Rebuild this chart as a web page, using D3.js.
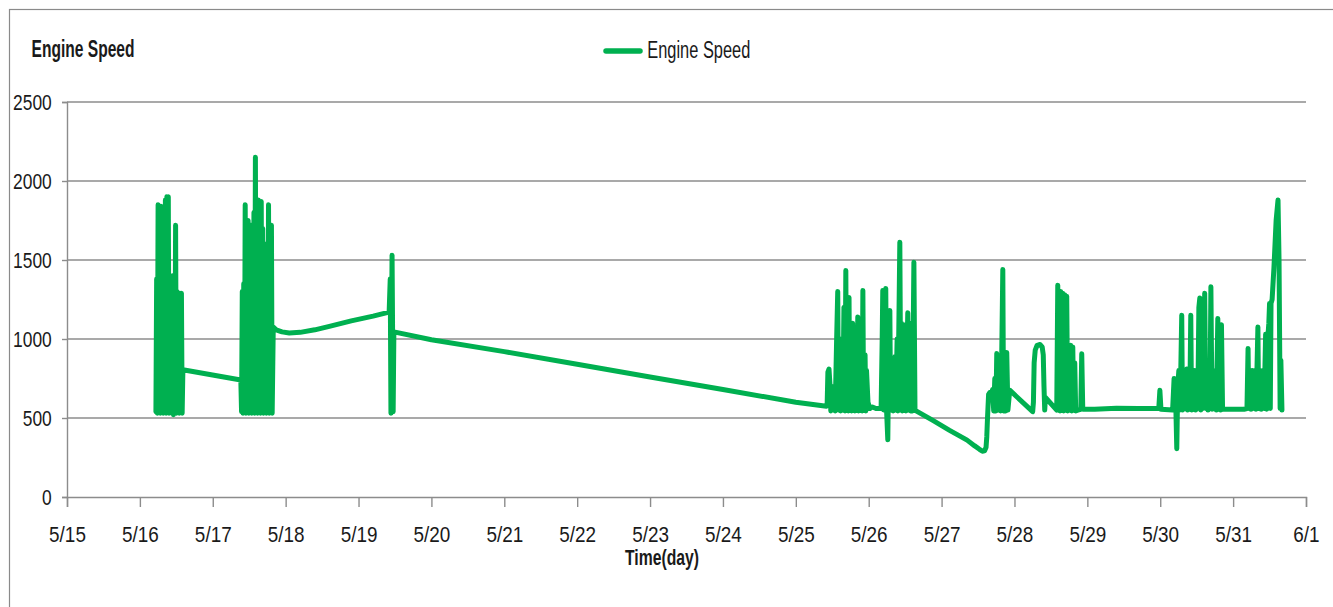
<!DOCTYPE html>
<html>
<head>
<meta charset="utf-8">
<script src="https://cdn.jsdelivr.net/npm/d3@7"></script>
<style>
  html, body { margin: 0; padding: 0; background: #fff; }
  svg text { font-family: 'Liberation Sans', Arial, sans-serif; fill: #1a1a1a; }
</style>
</head>
<body>
<svg id="chart" width="1333" height="607"></svg>
<script>
// ---- data (time in day-of-May, 32 = June 1) ----
const times = [
  16.22,16.23,16.24,16.25,16.26,16.27,16.28,16.29,16.30,16.31,16.32,16.33,16.34,16.35,16.36,16.37,16.38,16.39,16.40,16.41,16.42,16.43,16.44,16.45,16.46,16.47,16.48,16.49,16.50,16.51,16.52,16.53,16.54,16.55,16.56,16.57,16.58,16.59,
  17.385,17.395,17.405,17.415,17.425,17.435,17.445,17.455,17.465,17.475,17.485,17.495,17.505,17.515,17.525,17.535,17.545,17.555,17.565,17.575,17.585,17.595,17.605,17.615,17.625,17.635,17.645,17.655,17.665,17.675,17.685,17.695,17.705,17.715,17.725,17.735,17.745,17.755,17.765,17.775,17.785,17.795,17.805,17.815,17.83,
  17.87,17.95,18.05,18.2,18.4,18.6,18.9,19.2,19.42,19.435,19.445,19.46,19.475,19.485,20.0,21,22,23,24,25,25.42,
  25.43,25.44,25.455,25.47,25.48,25.50,25.52,25.54,25.56,25.575,25.585,25.60,25.615,25.63,25.645,25.66,25.675,25.686,25.695,25.71,25.72,25.73,25.74,25.755,25.765,25.78,25.79,25.80,25.81,25.83,25.84,25.85,25.86,25.875,25.885,25.90,25.91,25.92,25.93,25.95,25.96,25.97,25.99,26.015,26.05,26.10,26.17,
  26.185,26.193,26.205,26.22,26.234,26.245,26.262,26.275,26.29,26.30,26.32,26.335,26.36,26.37,26.39,26.40,26.427,26.44,26.45,26.46,26.475,26.485,26.50,26.51,26.525,26.536,26.55,26.565,26.575,26.59,26.60,26.62,26.635,26.65,
  26.88,27.11,27.35,27.45,27.52,27.56,27.59,27.61,27.62,27.63,27.645,
  27.66,27.68,27.70,27.715,27.73,27.745,27.757,27.77,27.785,27.80,27.81,27.825,27.84,27.85,27.865,27.88,27.894,27.91,27.935,
  28.25,28.26,28.27,28.285,28.31,28.35,28.38,28.395,28.405,28.415,28.425,28.58,
  28.594,28.605,28.615,28.625,28.635,28.645,28.663,28.675,28.69,28.70,28.717,28.73,28.745,28.758,28.772,28.786,28.80,28.812,28.827,28.84,28.87,28.91,28.923,28.937,
  29.1,29.4,29.7,29.98,29.995,30.01,30.17,
  30.19,30.20,30.215,30.227,30.24,30.255,30.265,30.28,30.295,30.305,30.32,30.335,30.35,30.364,30.375,30.39,30.405,30.419,30.43,30.445,30.46,30.474,30.485,30.50,30.515,30.53,30.543,30.555,30.57,30.585,30.60,30.61,30.625,30.64,30.655,30.67,30.682,30.695,30.71,30.725,30.74,30.755,30.77,30.79,30.80,30.815,30.828,30.84,30.855,
  31.15,31.19,31.205,31.215,31.23,31.245,31.26,31.273,31.285,31.30,31.315,31.34,31.35,31.37,31.385,31.41,31.425,31.446,31.46,31.475,31.49,31.50,31.51,31.52,31.535,31.56,31.59,31.616,31.63,31.645,31.655,31.67
];
const speeds = [
  540,1380,530,1850,540,1400,530,1840,550,1350,530,1420,540,1880,530,1900,560,1900,530,1380,540,1330,530,1400,520,1380,540,1720,530,1300,540,1290,530,1290,540,1290,530,805,
  741,540,1300,530,1350,540,1850,530,1600,540,1750,530,1400,540,1720,530,1450,540,1800,530,2150,540,1400,530,1880,540,1500,530,1870,540,1700,530,1450,540,1600,530,1500,540,1850,530,1400,540,1720,530,1076,
  1058,1045,1038,1042,1058,1080,1115,1145,1170,1380,530,1530,540,1045,995,920,840,760,680,600,575,
  590,790,810,700,545,560,700,545,1000,1300,550,900,545,1000,550,1200,545,1433,550,1100,545,1263,550,900,545,1100,550,800,545,1000,550,1140,545,900,550,1000,545,1307,550,900,545,800,600,560,570,560,560,
  1000,1307,550,1100,1320,550,362,900,1180,550,800,545,887,550,1000,545,1612,550,1100,545,1000,550,1090,545,900,1166,550,1100,545,800,545,1486,550,545,
  485,422,360,325,302,290,292,315,380,500,650,
  660,640,680,545,750,545,908,550,700,775,545,900,1440,545,900,545,914,550,676,
  540,600,850,930,960,965,950,900,700,550,630,550,
  1340,550,1000,545,1300,550,1290,545,1280,550,1270,545,800,550,960,545,950,550,850,545,550,555,907,555,
  555,562,560,560,675,555,550,
  750,700,550,306,700,800,550,750,1150,550,800,560,780,810,550,800,560,1150,550,800,560,800,550,750,560,1200,1260,550,800,560,1000,1290,560,800,550,780,560,1331,555,800,560,750,550,1130,560,800,550,1090,555,
  555,560,940,560,800,555,800,790,560,800,555,1076,560,800,555,800,560,1030,555,1000,1100,1225,560,1225,1250,1450,1750,1880,1500,560,866,550
];
const xTickDays = [15,16,17,18,19,20,21,22,23,24,25,26,27,28,29,30,31,32];
const xTickLabels = ["5/15","5/16","5/17","5/18","5/19","5/20","5/21","5/22","5/23","5/24","5/25","5/26","5/27","5/28","5/29","5/30","5/31","6/1"];
const yTicks = [0,500,1000,1500,2000,2500];
const seriesName = "Engine Speed";
const chartTitle = "Engine Speed";
const xTitle = "Time(day)";

// ---- drawing ----
const svg = d3.select("#chart");
const mLeft = 67, mRight = 1306, mTop = 102, mBottom = 497;
const gridColor = "#8c8c8c";
const green = "#00b050";

// outer frame
svg.append("rect").attr("x", 9.5).attr("y", 9.5).attr("width", 1400).attr("height", 700)
  .attr("fill", "none").attr("stroke", "#8a8a8a").attr("stroke-width", 1.2);

const x = d3.scaleLinear().domain([15, 32]).range([mLeft, mRight]);
const y = d3.scaleLinear().domain([0, 2500]).range([mBottom, mTop]);

// gridlines
svg.append("g").selectAll("line").data(yTicks.filter(d => d > 0)).join("line")
  .attr("x1", mLeft).attr("x2", mRight)
  .attr("y1", d => y(d)).attr("y2", d => y(d))
  .attr("stroke", gridColor).attr("stroke-width", 1.4);

// y axis
const ySx = 0.79;
const yAxis = svg.append("g").attr("transform", `translate(${mLeft},0)`)
  .call(d3.axisLeft(y).tickValues(yTicks).tickSize(5).tickPadding(10).tickFormat(d3.format("d")));
yAxis.select(".domain").attr("stroke", gridColor).attr("stroke-width", 1.4);
yAxis.selectAll(".tick line").attr("stroke", gridColor).attr("stroke-width", 1.4);
yAxis.selectAll("text").attr("font-size", 22).attr("fill", "#1a1a1a")
  .attr("x", -15.3 / ySx).attr("transform", `scale(${ySx},1)`);

// x axis
const xSx = 0.86;
const xAxis = svg.append("g").attr("transform", `translate(0,${mBottom})`)
  .call(d3.axisBottom(x).tickValues(xTickDays).tickSize(10).tickPadding(19)
    .tickFormat((d, i) => xTickLabels[i]));
xAxis.select(".domain").attr("stroke", gridColor).attr("stroke-width", 1.4);
xAxis.selectAll(".tick line").attr("stroke", gridColor).attr("stroke-width", 1.4);
xAxis.selectAll("text").attr("font-size", 22).attr("fill", "#1a1a1a")
  .attr("transform", `scale(${xSx},1)`);

// series
const pts = times.map((t, i) => [t, speeds[i]]);
const line = d3.line().x(d => x(d[0])).y(d => y(d[1])).curve(d3.curveLinear);
svg.append("path").datum(pts).attr("d", line)
  .attr("fill", "none").attr("stroke", green).attr("stroke-width", 5)
  .attr("stroke-linejoin", "round").attr("stroke-linecap", "round");

// titles
svg.append("text").attr("x", 31.5).attr("y", 56.7).attr("font-size", 23).attr("font-weight", "bold")
  .attr("textLength", 103).attr("lengthAdjust", "spacingAndGlyphs").text(chartTitle);
svg.append("text").attr("x", 625).attr("y", 565).attr("font-size", 22).attr("font-weight", "bold")
  .attr("textLength", 74).attr("lengthAdjust", "spacingAndGlyphs").text(xTitle);

// legend
svg.append("line").attr("x1", 606).attr("x2", 640).attr("y1", 51).attr("y2", 51)
  .attr("stroke", green).attr("stroke-width", 5.5).attr("stroke-linecap", "round");
svg.append("text").attr("x", 647.3).attr("y", 58.3).attr("font-size", 23)
  .attr("textLength", 103).attr("lengthAdjust", "spacingAndGlyphs").text(seriesName);
</script>
</body>
</html>
